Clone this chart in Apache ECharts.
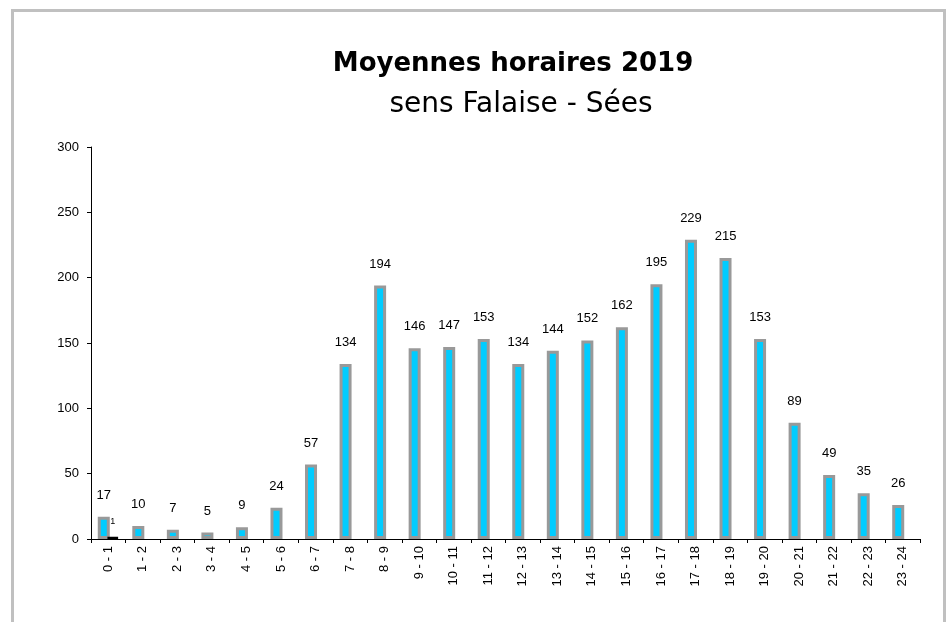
<!DOCTYPE html>
<html>
<head>
<meta charset="utf-8">
<script src="https://cdn.jsdelivr.net/npm/echarts@6/dist/echarts.min.js"></script>
<style>
  html, body { margin: 0; padding: 0; background: #fff; }
  #chart { width: 951px; height: 622px; }
</style>
</head>
<body>
<div id="chart"></div>
<script>
// Hourly slots (hour ranges)
const hours = ['0 - 1','1 - 2','2 - 3','3 - 4','4 - 5','5 - 6','6 - 7','7 - 8','8 - 9','9 - 10',
  '10 - 11','11 - 12','12 - 13','13 - 14','14 - 15','15 - 16','16 - 17','17 - 18','18 - 19',
  '19 - 20','20 - 21','21 - 22','22 - 23','23 - 24'];
// Average hourly traffic, direction Falaise - Sées
const hourlyAverage = [17, 10, 7, 5, 9, 24, 57, 134, 194, 146, 147, 153, 134, 144, 152, 162, 195, 229, 215, 153, 89, 49, 35, 26];
// Secondary series (only the first slot carries a value)
const secondary = [1, null, null, null, null, null, null, null, null, null, null, null, null, null, null, null, null, null, null, null, null, null, null, null];
// Value axis ticks
const yTicks = [0, 50, 100, 150, 200, 250, 300];

const chart = echarts.init(document.getElementById('chart'));
const font = '"Liberation Sans", Arial, sans-serif';

chart.setOption({
  animation: false,
  backgroundColor: '#ffffff',
  graphic: [{
    type: 'rect',
    shape: { x: 12.5, y: 10.5, width: 932, height: 700 },
    style: { fill: 'none', stroke: '#c0c0c0', lineWidth: 3 },
    silent: true
  }],
  title: [{
    text: 'Moyennes horaires 2019',
    left: 508, top: 46, textAlign: 'center',
    textStyle: { fontFamily: '"DejaVu Sans", sans-serif', fontWeight: 'bold', fontSize: 26, color: '#000' }
  }, {
    text: 'sens Falaise - Sées',
    left: 516, top: 86, textAlign: 'center',
    textStyle: { fontFamily: '"DejaVu Sans", sans-serif', fontWeight: 'normal', fontSize: 28, color: '#000' }
  }],
  grid: { left: 91, right: 31, top: 147, bottom: 83, containLabel: false },
  xAxis: {
    type: 'category',
    data: hours,
    boundaryGap: true,
    axisLine: { lineStyle: { color: '#000', width: 1 } },
    axisTick: { show: true, length: 4, lineStyle: { color: '#000' } },
    axisLabel: { rotate: 90, margin: 7, fontSize: 13, fontFamily: font, color: '#000', interval: 0 }
  },
  yAxis: {
    type: 'value',
    min: yTicks[0], max: yTicks[yTicks.length - 1], interval: 50,
    splitLine: { show: false },
    axisLine: { show: true, lineStyle: { color: '#000', width: 1 } },
    axisTick: { show: true, length: 4, lineStyle: { color: '#000' } },
    axisLabel: { margin: 12, fontSize: 13, fontFamily: font, color: '#000' }
  },
  series: [{
    type: 'bar',
    data: hourlyAverage,
    barWidth: 12,
    barGap: '-25%',
    itemStyle: { color: '#00ccff', borderColor: '#999999', borderWidth: 3 },
    label: { show: true, position: 'top', distance: 15, fontSize: 13, fontFamily: font, color: '#000' }
  }, {
    type: 'bar',
    data: secondary,
    barWidth: 12,
    itemStyle: { color: '#000', borderColor: '#000', borderWidth: 3 },
    label: { show: true, position: 'top', distance: 11, fontSize: 9, fontFamily: font, color: '#000' }
  }]
});
</script>
</body>
</html>
